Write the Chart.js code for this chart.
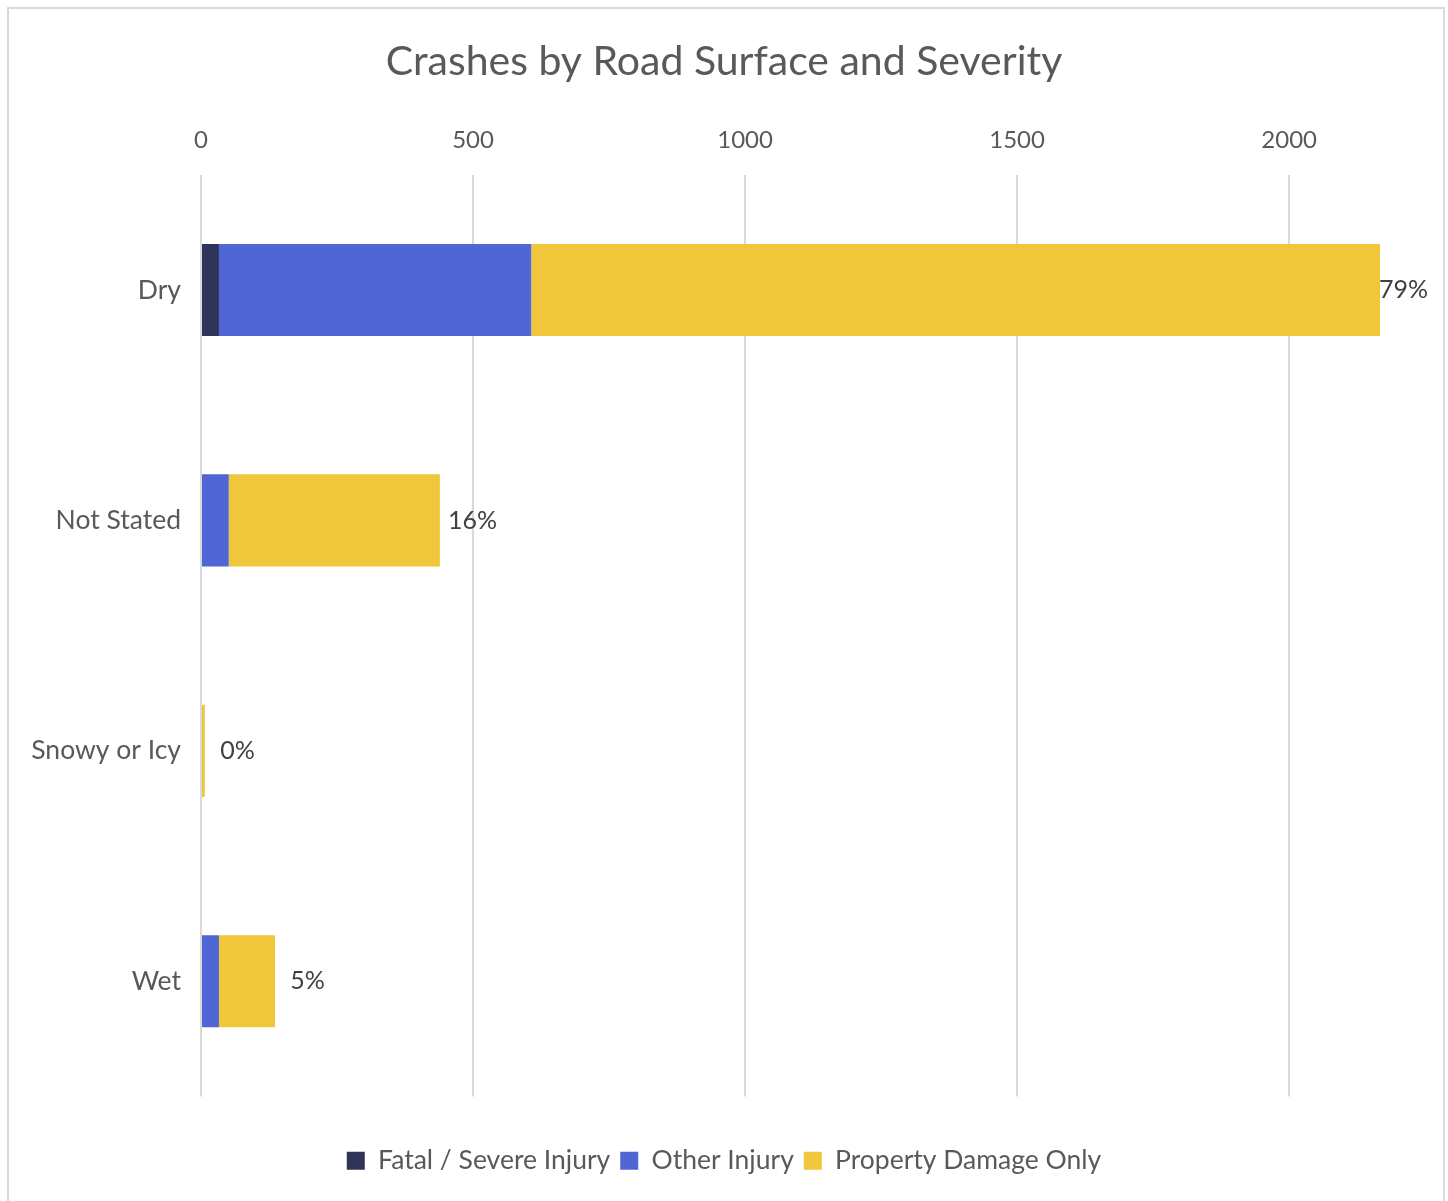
<!DOCTYPE html>
<html>
<head>
<meta charset="utf-8">
<script src="https://cdn.jsdelivr.net/npm/chart.js@4/dist/chart.umd.min.js"></script>
<style>
  html, body { margin: 0; padding: 0; background: #fff; }
  #wrap { position: relative; width: 1448px; height: 1201px; overflow: hidden; }
  #frame { position: absolute; left: 7px; top: 7px; width: 1434px; height: 1210px;
           border: 2px solid #d9d9d9; pointer-events: none; }
  canvas { position: absolute; left: 0; top: 0; }
</style>
</head>
<body>
<div id="wrap">
  <canvas id="chart" width="1448" height="1201"></canvas>
  <div id="frame"></div>
</div>
<script>
(() => {
    'use strict';

    // 路面別・重大度別の件数
    const surfaces = ['Dry', 'Not Stated', 'Snowy or Icy', 'Wet']
    const fatalSevere = [33, 0, 0, 0]
    const otherInjury = [574, 51, 0, 33]
    const propertyOnly = [1560, 388, 7, 103]
    const shareLabels = ['79%', '16%', '0%', '5%']
    const xTicks = [0, 500, 1000, 1500, 2000]

    const textColor = '#595959'
    const font = 'Lato, "Open Sans", sans-serif'

    // 合計の右側にパーセンテージを書く
    const shareLabelPlugin = {
        id: 'shareLabels',
        afterDatasetsDraw(chart) {
            const c = chart.ctx
            const x = chart.scales.x
            const y = chart.scales.y
            c.save()
            c.font = `25px ${font}`
            c.fillStyle = '#404040'
            c.textAlign = 'center'
            c.textBaseline = 'middle'
            surfaces.forEach((s, i) => {
                const total = fatalSevere[i] + otherInjury[i] + propertyOnly[i]
                const w = c.measureText(shareLabels[i]).width
                let cx = x.getPixelForValue(total + 60)
                cx = Math.min(cx, chart.width - 20 - w / 2)
                c.fillText(shareLabels[i], cx, y.getPixelForValue(i))
            })
            c.restore()
        }
    }

    new Chart(document.getElementById('chart'), {
        type: 'bar',
        data: {
            labels: surfaces,
            datasets: [
                { label: 'Fatal / Severe Injury', data: fatalSevere, backgroundColor: '#2e3558' },
                { label: 'Other Injury', data: otherInjury, backgroundColor: '#4f66d4' },
                { label: 'Property Damage Only', data: propertyOnly, backgroundColor: '#f0c63a' }
            ]
        },
        options: {
            indexAxis: 'y',
            responsive: false,
            animation: false,
            layout: { padding: { left: 0, right: 0, top: 0, bottom: 17 } },
            datasets: { bar: { categoryPercentage: 0.4, barPercentage: 1, borderWidth: 0 } },
            scales: {
                x: {
                    position: 'top',
                    stacked: true,
                    min: 0,
                    max: 2167,
                    afterBuildTicks: (s) => { s.ticks = xTicks.map(v => ({ value: v })) },
                    afterFit: (s) => { s.height = 80.6 },
                    grid: { color: '#d9d9d9', lineWidth: 2, drawTicks: false },
                    border: { display: false },
                    ticks: {
                        color: textColor,
                        font: { family: font, size: 24 },
                        padding: 20,
                        callback: (v) => String(v)
                    }
                },
                y: {
                    stacked: true,
                    afterFit: (s) => { s.width = 201 },
                    grid: { display: false },
                    border: { display: false },
                    ticks: { color: textColor, font: { family: font, size: 26.5 }, padding: 12 }
                },
                // 右側の余白用（表示なし）
                yRight: {
                    position: 'right',
                    afterFit: (s) => { s.width = 68 },
                    grid: { display: false },
                    border: { display: false },
                    ticks: { display: false }
                }
            },
            plugins: {
                title: {
                    display: true,
                    text: 'Crashes by Road Surface and Severity',
                    color: textColor,
                    font: { family: font, size: 41, weight: 'normal' },
                    padding: { top: 37, bottom: 8 }
                },
                legend: {
                    position: 'bottom',
                    title: { display: true, text: '', font: { size: 10 }, padding: { top: 29, bottom: 0 } },
                    labels: {
                        color: textColor,
                        font: { family: font, size: 26.5 },
                        boxWidth: 18,
                        boxHeight: 18,
                        padding: 10
                    }
                },
                tooltip: { enabled: false }
            }
        },
        plugins: [shareLabelPlugin]
    })
})();
</script>
</body>
</html>
